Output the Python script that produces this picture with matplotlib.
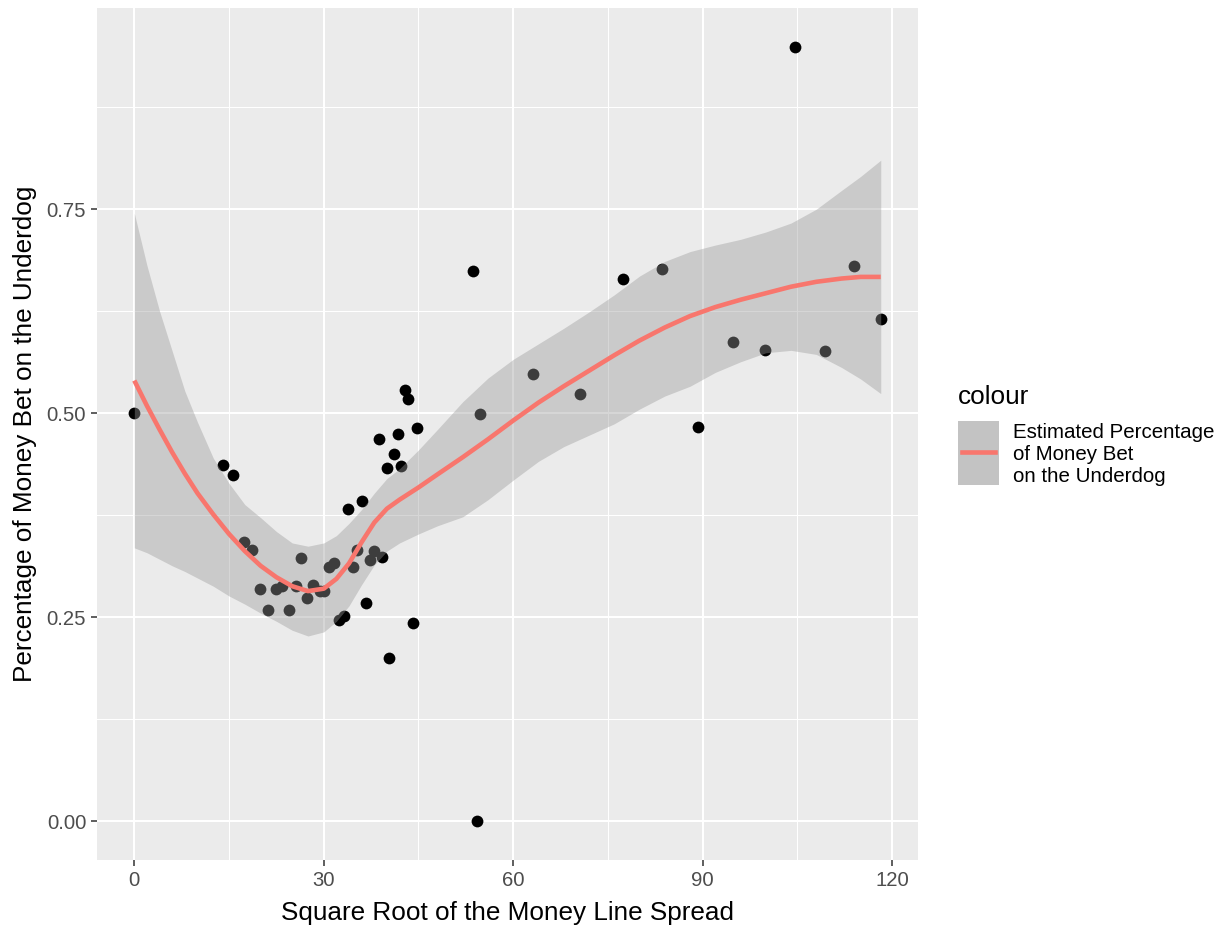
import numpy as np
import matplotlib.pyplot as plt
from matplotlib.patches import Rectangle
from matplotlib.lines import Line2D

plt.rcParams['font.family'] = ['Liberation Sans', 'DejaVu Sans']

# observed games: sqrt of money line spread vs share of money on the underdog
spread_sqrt = [0.0, 14.1, 15.6, 17.4, 18.6, 19.9, 21.2, 22.4, 23.4, 24.5,
               25.6, 26.4, 27.3, 28.3, 29.4, 30.0, 30.8, 31.6, 32.4, 33.2,
               33.8, 34.6, 35.2, 36.0, 36.7, 37.3, 37.9, 38.7, 39.3, 40.0,
               40.4, 41.2, 41.7, 42.3, 42.9, 43.4, 44.1, 44.7, 53.7, 54.2,
               54.7, 63.2, 70.6, 77.4, 83.6, 89.3, 94.8, 99.8, 104.7, 109.3,
               113.9, 118.2]
pct_underdog = [0.500, 0.436, 0.424, 0.342, 0.332, 0.284, 0.259, 0.285, 0.288, 0.259,
                0.288, 0.322, 0.273, 0.289, 0.282, 0.282, 0.311, 0.316, 0.246, 0.251,
                0.383, 0.312, 0.332, 0.393, 0.267, 0.320, 0.331, 0.468, 0.324, 0.433,
                0.200, 0.450, 0.474, 0.435, 0.529, 0.517, 0.243, 0.482, 0.674, 0.000,
                0.499, 0.548, 0.523, 0.665, 0.677, 0.483, 0.587, 0.578, 0.949, 0.576,
                0.680, 0.615]

# smoother: fit line and confidence band
smooth_x = [0, 2, 4, 6, 8, 10, 12.5, 15, 17.5, 20, 22.5, 25, 27.5, 30, 32, 34,
            36, 38, 40, 42, 45, 48, 52, 56, 60, 64, 68, 72, 76, 80, 84, 88,
            92, 96, 100, 104, 108, 112, 115, 118.2]
smooth_fit = [0.540, 0.509, 0.480, 0.452, 0.426, 0.402, 0.376, 0.352, 0.331, 0.313,
              0.299, 0.288, 0.282, 0.285, 0.297, 0.316, 0.342, 0.366, 0.383, 0.394,
              0.409, 0.425, 0.446, 0.468, 0.491, 0.513, 0.533, 0.552, 0.571, 0.589,
              0.605, 0.619, 0.630, 0.639, 0.647, 0.655, 0.661, 0.665, 0.667, 0.667]
smooth_hi = [0.745, 0.681, 0.625, 0.576, 0.527, 0.489, 0.445, 0.414, 0.388, 0.372,
             0.355, 0.341, 0.337, 0.341, 0.350, 0.365, 0.382, 0.402, 0.420, 0.432,
             0.455, 0.480, 0.514, 0.543, 0.566, 0.585, 0.604, 0.624, 0.645, 0.668,
             0.686, 0.698, 0.706, 0.713, 0.722, 0.733, 0.750, 0.773, 0.790, 0.810]
smooth_lo = [0.335, 0.329, 0.321, 0.313, 0.306, 0.298, 0.288, 0.276, 0.266, 0.255,
             0.245, 0.234, 0.227, 0.232, 0.245, 0.264, 0.290, 0.314, 0.331, 0.341,
             0.352, 0.362, 0.373, 0.394, 0.418, 0.441, 0.459, 0.473, 0.487, 0.505,
             0.521, 0.533, 0.550, 0.563, 0.574, 0.577, 0.572, 0.556, 0.542, 0.524]

x_ticks = [0, 30, 60, 90, 120]
x_minor = [15, 45, 75, 105]
y_ticks = [0.00, 0.25, 0.50, 0.75]
y_minor = [0.125, 0.375, 0.625, 0.875]
legend_label = "Estimated Percentage\nof Money Bet\non the Underdog"

W, H = 1228, 930
fig = plt.figure(figsize=(W / 100, H / 100), dpi=100)
fig.patch.set_facecolor('white')
ax = fig.add_axes([97 / W, 1 - 860 / H, (918 - 97) / W, (860 - 8) / H])
ax.set_facecolor('#EBEBEB')
for s in ax.spines.values():
    s.set_visible(False)

ax.set_xlim(-5.91, 124.1)
ax.set_ylim(-0.0475, 0.9965)
ax.set_xticks(x_ticks)
ax.set_xticks(x_minor, minor=True)
ax.set_yticks(y_ticks)
ax.set_yticks(y_minor, minor=True)
ax.set_yticklabels([f"{v:.2f}" for v in y_ticks])
ax.grid(which='major', color='white', linewidth=1.5)
ax.grid(which='minor', color='white', linewidth=0.75)
ax.set_axisbelow(True)
ax.tick_params(which='major', length=4.5, width=1.1, color='#333333',
               labelcolor='#4D4D4D', labelsize=14.6, pad=3.3)
ax.tick_params(which='minor', length=0)

# points first, band on top (like ggplot layer order)
ax.scatter(spread_sqrt, pct_underdog, s=72, color='black', linewidths=0, zorder=2)
ax.fill_between(smooth_x, smooth_lo, smooth_hi, color='#999999', alpha=0.4,
                linewidth=0, zorder=3)
ax.plot(smooth_x, smooth_fit, color='#F8766D', linewidth=3.3, zorder=4,
        solid_capstyle='butt', solid_joinstyle='round')

ax.set_xlabel("Square Root of the Money Line Spread", fontsize=18.8, color='black')
ax.set_ylabel("Percentage of Money Bet on the Underdog", fontsize=18.8, color='black')
ax.xaxis.set_label_coords(0.5, -0.048)
ax.yaxis.set_label_coords(-0.073, 0.5)

# legend drawn by hand at the right
fig.text(958 / W, 1 - 397 / H, "colour", fontsize=18.8, va='center', ha='left')
fig.add_artist(Rectangle((958 / W, 1 - 485 / H), 41 / W, 64 / H,
                         transform=fig.transFigure, facecolor='#C3C3C3',
                         edgecolor='none'))
fig.add_artist(Line2D([962 / W, 995 / W], [1 - 452 / H, 1 - 452 / H],
                      transform=fig.transFigure, color='#F8766D', linewidth=3.3))
fig.text(1013 / W, 1 - 454 / H, legend_label, fontsize=14.8, va='center', ha='left',
         linespacing=1.2, color='black')

fig.savefig('out.png', dpi=100)
